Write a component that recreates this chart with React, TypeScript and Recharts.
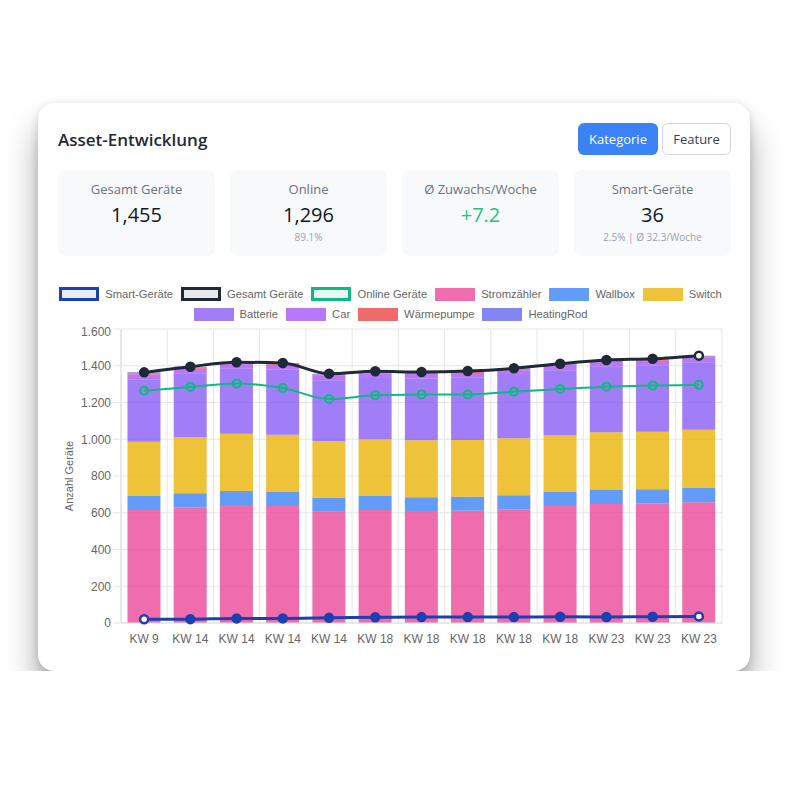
import {
    Bar,
    CartesianGrid,
    ComposedChart,
    Line,
    XAxis,
    YAxis,
} from 'recharts';

const weeks = ['KW 9', 'KW 14', 'KW 14', 'KW 14', 'KW 14', 'KW 18', 'KW 18', 'KW 18', 'KW 18', 'KW 18', 'KW 23', 'KW 23', 'KW 23'];

const stromzaehler = [615, 630, 642, 637, 606, 615, 610, 611, 619, 637, 648, 651, 657];
const wallbox = [76, 76, 76, 78, 76, 76, 74, 76, 76, 78, 76, 77, 78];
const switchDevices = [296, 305, 312, 310, 308, 309, 310, 309, 310, 306, 314, 313, 317];
const batterie = [340, 348, 354, 355, 331, 334, 336, 339, 345, 354, 357, 361, 367];
const car = [25, 25, 24, 25, 24, 25, 25, 25, 25, 25, 25, 25, 25];
const waermepumpe = [7, 6, 6, 6, 7, 6, 6, 6, 6, 6, 6, 6, 6];
const heatingRod = [5, 5, 5, 4, 5, 5, 5, 5, 5, 5, 5, 5, 5];

const gesamt = [1364, 1395, 1419, 1415, 1357, 1370, 1366, 1371, 1386, 1411, 1431, 1438, 1455];
const online = [1264, 1284, 1304, 1279, 1219, 1239, 1243, 1244, 1259, 1273, 1286, 1292, 1296];
const smart = [20, 21, 25, 25, 28, 31, 32, 32, 32, 34, 33, 34, 36];

const yTicks = [0, 200, 400, 600, 800, 1000, 1200, 1400, 1600];

const chartData = weeks.map((week, i) => ({
    week,
    stromzaehler: stromzaehler[i],
    wallbox: wallbox[i],
    switchDevices: switchDevices[i],
    batterie: batterie[i],
    car: car[i],
    waermepumpe: waermepumpe[i],
    heatingRod: heatingRod[i],
    gesamt: gesamt[i],
    online: online[i],
    smart: smart[i],
}));

const lineSeries = [
    { key: 'smart', name: 'Smart-Geräte', color: '#1e40af', fill: 'rgba(30,64,175,0.1)' },
    { key: 'gesamt', name: 'Gesamt Geräte', color: '#1f2937', fill: 'rgba(31,41,55,0.1)' },
    { key: 'online', name: 'Online Geräte', color: '#10b981', fill: 'rgba(16,185,129,0.1)' },
];

const barSeries = [
    { key: 'stromzaehler', name: 'Stromzähler', color: 'rgba(236,72,153,0.8)' },
    { key: 'wallbox', name: 'Wallbox', color: 'rgba(59,130,246,0.8)' },
    { key: 'switchDevices', name: 'Switch', color: 'rgba(234,179,8,0.8)' },
    { key: 'batterie', name: 'Batterie', color: 'rgba(139,92,246,0.8)' },
    { key: 'car', name: 'Car', color: 'rgba(168,85,247,0.8)' },
    { key: 'waermepumpe', name: 'Wärmepumpe', color: 'rgba(239,68,68,0.8)' },
    { key: 'heatingRod', name: 'HeatingRod', color: 'rgba(99,102,241,0.8)' },
];

const stats = [
    { label: 'Gesamt Geräte', value: '1,455', sub: '', color: '#111827' },
    { label: 'Online', value: '1,296', sub: '89.1%', color: '#111827' },
    { label: 'Ø Zuwachs/Woche', value: '+7.2', sub: '', color: '#22c47a' },
    { label: 'Smart-Geräte', value: '36', sub: '2.5% | Ø 32.3/Woche', color: '#111827' },
];

const uiFont = '"Open Sans", Inter, sans-serif';
const chartFont = '"Liberation Sans", Arial, Helvetica, sans-serif';

function formatTick(v: number) {
    if (v < 1000) return String(v);
    return `${Math.floor(v / 1000)}.${String(v % 1000).padStart(3, '0')}`;
}

// filled markers, with hollow ones at the given indices (active/hover state)
function makeDot(color: string, hollow: number[]) {
    return (props: any) => {
        const { cx, cy, index } = props;
        if (cx == null || cy == null) return <g key={`d-${index}`} />;
        const isHollow = hollow.includes(index);
        return (
            <circle
                key={`d-${index}`}
                cx={cx}
                cy={cy}
                r={4}
                fill={isHollow ? '#fff' : color}
                stroke={color}
                strokeWidth={2.5}
            />
        );
    };
}

function LegendItem({ name, fill, border }: { name: string; fill: string; border?: string }) {
    return (
        <div style={{ display: 'flex', alignItems: 'center', marginRight: 8, flexShrink: 0, whiteSpace: 'nowrap' }}>
            <div
                style={{
                    width: border ? 34 : 40,
                    height: border ? 8 : 13,
                    background: fill,
                    border: border ? `3px solid ${border}` : 'none',
                    marginRight: 6,
                    flexShrink: 0,
                }}
            />
            <span>{name}</span>
        </div>
    );
}

function ChartLegend() {
    const rowStyle = {
        display: 'flex',
        justifyContent: 'center',
        height: 20,
        alignItems: 'center',
    } as const;
    const items = [
        ...lineSeries.map((s) => <LegendItem key={s.key} name={s.name} fill={s.fill} border={s.color} />),
        ...barSeries.map((s) => <LegendItem key={s.key} name={s.name} fill={s.color} />),
    ];
    return (
        <div style={{ fontFamily: chartFont, fontSize: 11.2, color: '#666', height: 40 }}>
            <div style={rowStyle}>{items.slice(0, 6)}</div>
            <div style={rowStyle}>{items.slice(6)}</div>
        </div>
    );
}

export default function App() {
    return (
        <div
            style={{
                position: 'relative',
                marginLeft: 30,
                marginTop: 95,
                width: 712,
                height: 568,
                boxSizing: 'border-box',
                padding: '20px 19px 18px 20px',
                background: '#fff',
                borderRadius: 16,
                boxShadow: '0 24px 32px rgba(0,0,0,0.35), 0 2px 8px rgba(0,0,0,0.15)',
                fontFamily: uiFont,
            }}
        >
            <div style={{ display: 'flex', alignItems: 'center', justifyContent: 'space-between', height: 32 }}>
                <div style={{ fontSize: 17, fontWeight: 600, color: '#1f2937' }}>Asset-Entwicklung</div>
                <div style={{ display: 'flex', gap: 4 }}>
                    <div
                        style={{
                            background: '#3b82f6',
                            color: '#fff',
                            fontSize: 13,
                            borderRadius: 6,
                            width: 80,
                            height: 32,
                            display: 'flex',
                            alignItems: 'center',
                            justifyContent: 'center',
                        }}
                    >
                        Kategorie
                    </div>
                    <div
                        style={{
                            background: '#fff',
                            color: '#374151',
                            fontSize: 13,
                            borderRadius: 6,
                            border: '1px solid #d1d5db',
                            width: 67,
                            height: 30,
                            display: 'flex',
                            alignItems: 'center',
                            justifyContent: 'center',
                        }}
                    >
                        Feature
                    </div>
                </div>
            </div>

            <div style={{ display: 'flex', gap: 15, marginTop: 15 }}>
                {stats.map((s) => (
                    <div
                        key={s.label}
                        style={{
                            width: 157,
                            height: 86,
                            background: '#f8f9fb',
                            borderRadius: 8,
                            textAlign: 'center',
                            boxSizing: 'border-box',
                            paddingTop: 11,
                        }}
                    >
                        <div style={{ fontSize: 13, color: '#6b7280', lineHeight: '16px' }}>{s.label}</div>
                        <div style={{ fontSize: 20, color: s.color, lineHeight: '24px', marginTop: 6 }}>{s.value}</div>
                        <div style={{ fontSize: 10, color: '#9ca3af', lineHeight: '14px', marginTop: 3 }}>{s.sub}</div>
                    </div>
                ))}
            </div>

            <div style={{ marginTop: 28 }}>
                <ChartLegend />
                <ComposedChart
                    width={673}
                    height={329}
                    data={chartData}
                    margin={{ top: 5, right: 9, bottom: 0, left: 0 }}
                    barCategoryGap="14%"
                    style={{ fontFamily: chartFont }}
                >
                    <CartesianGrid
                        stroke="#e6e6e6"
                        verticalCoordinatesGenerator={({ offset }: any) =>
                            Array.from({ length: 14 }, (_, i) => offset.left + (offset.width * i) / 13)
                        }
                    />
                    <XAxis
                        dataKey="week"
                        tick={{ fill: '#666', fontSize: 12 }}
                        tickLine={false}
                        tickMargin={5}
                        axisLine={{ stroke: '#ddd' }}
                        height={30}
                        interval={0}
                    />
                    <YAxis
                        width={63}
                        domain={[0, 1600]}
                        ticks={yTicks}
                        tickFormatter={formatTick}
                        tick={{ fill: '#666', fontSize: 12 }}
                        tickLine={{ stroke: '#e6e6e6' }}
                        tickSize={8}
                        tickMargin={2}
                        axisLine={{ stroke: '#ddd' }}
                        label={{
                            value: 'Anzahl Geräte',
                            angle: -90,
                            position: 'insideLeft',
                            offset: 11,
                            style: { fill: '#666', fontSize: 11, textAnchor: 'middle' },
                        }}
                    />
                    {barSeries.map((s) => (
                        <Bar
                            key={s.key}
                            dataKey={s.key}
                            name={s.name}
                            stackId="assets"
                            fill={s.color}
                            isAnimationActive={false}
                        />
                    ))}
                    <Line
                        type="monotone"
                        dataKey="online"
                        name="Online Geräte"
                        stroke="#10b981"
                        strokeWidth={2}
                        dot={{ r: 4, fill: 'rgba(16,185,129,0.1)', stroke: '#10b981', strokeWidth: 2 }}
                        isAnimationActive={false}
                    />
                    <Line
                        type="monotone"
                        dataKey="gesamt"
                        name="Gesamt Geräte"
                        stroke="#1f2937"
                        strokeWidth={3}
                        dot={makeDot('#1f2937', [12])}
                        isAnimationActive={false}
                    />
                    <Line
                        type="monotone"
                        dataKey="smart"
                        name="Smart-Geräte"
                        stroke="#1e40af"
                        strokeWidth={3}
                        dot={makeDot('#1e40af', [0, 12])}
                        isAnimationActive={false}
                    />
                </ComposedChart>
            </div>
        </div>
    );
}
